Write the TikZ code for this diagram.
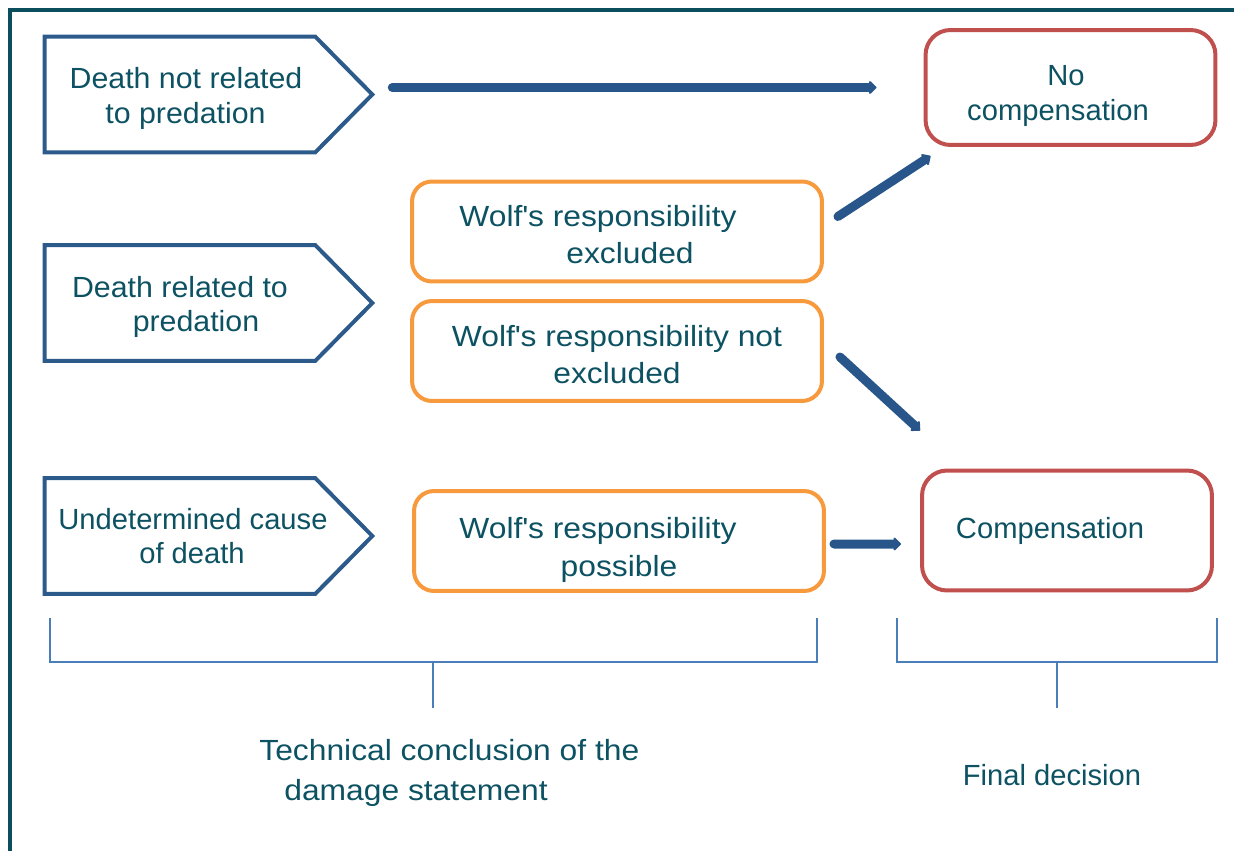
\documentclass[tikz,border=0pt]{standalone}
\usepackage{fontspec}
\setmainfont{Liberation Sans}
\newfontfamily\wolffont{Liberation Sans}[FakeStretch=1.09]
\newfontfamily\deathfont{Liberation Sans}[FakeStretch=1.04]
\usepackage{xcolor}
\usetikzlibrary{arrows.meta,calc}
\definecolor{frameteal}{HTML}{0B4F5E}
\definecolor{textteal}{HTML}{0D5262}
\definecolor{causeblue}{HTML}{2C5A8A}
\definecolor{flowblue}{HTML}{28568A}
\definecolor{wolforange}{HTML}{F79A3E}
\definecolor{decisionred}{HTML}{C0504D}
\definecolor{bracketblue}{HTML}{4A7EBB}
\newcommand{\apos}{\textquotesingle}
\newcommand{\drop}[1]{\rule{0pt}{#1}}

\begin{document}
\begin{tikzpicture}[x=0.02cm,y=-0.02cm,
		every node/.style={text=textteal, align=center, font=\fontsize{16.6}{19.8}\selectfont},
		cause/.style={minimum width=5.4cm, minimum height=2.3cm, inner sep=0pt},
		causeline/.style={draw=causeblue, line width=0.08cm, line join=miter},
		wolf/.style={draw=wolforange, line width=0.08cm, rounded corners=0.4cm,
			minimum width=8.2cm, minimum height=2cm, inner sep=0pt,
			font=\wolffont\fontsize{16.6}{21.5}\selectfont},
		decision/.style={draw=decisionred, line width=0.08cm, rounded corners=0.5cm,
			minimum width=5.8cm, inner sep=0pt},
		flow/.style={draw=flowblue, line width=0.18cm, line cap=round,
			-{Triangle[round,length=0.16cm,width=0.3cm]}},
		bracket/.style={draw=bracketblue, line width=0.03cm}]
		\useasboundingbox (0,0) rectangle (1234,851);
		\draw[frameteal, line width=0.08cm] (10,870) -- (10,10) -- (1250,10);
		% technical conclusions
		\node[cause, font=\deathfont\fontsize{16.6}{19.8}\selectfont] (dnp) at (180,94.5)
			{\drop{16.6pt}\hspace*{0.24cm}Death not related\\\hspace*{0.22cm}to predation};
		\node[cause, font=\deathfont\fontsize{16.6}{19.8}\selectfont] (dp) at (180,303)
			{\drop{16.6pt}Death related to\\\hspace*{0.64cm}predation};
		\node[cause] (ud) at (180,536)
			{\makebox[0pt]{\hspace*{0.52cm}Undetermined cause}\\\makebox[0pt]{\hspace*{0.48cm}of death}};
		\foreach \n in {dnp,dp,ud}
			\draw[causeline] (\n.north west) -- (\n.north east) -- ([xshift=1.14cm]\n.east)
				-- (\n.south east) -- (\n.south west) -- cycle;
		\node[wolf] (wex) at (617,231.5)
			{\drop{15.5pt}Wolf\apos s responsibility\hspace*{0.76cm}\\\hspace*{0.52cm}excluded};
		\node[wolf] (wnot) at (617,351)
			{\drop{16pt}Wolf\apos s responsibility not\\excluded};
		\node[wolf] (wpos) at (619,541)
			{\drop{22.3pt}Wolf\apos s responsibility\hspace*{0.84cm}\\possible};
		% final decisions
		\node[decision, minimum height=2.3cm] (nocomp) at (1070.5,87.5)
			{\drop{21.5pt}No\hspace*{0.18cm}\\compensation\hspace*{0.5cm}};
		\node[decision, minimum height=2.4cm] (comp) at (1067,530.5) {Compensation\hspace*{0.68cm}};
		\draw[flow, shorten <=1.54cm, shorten >=0.94cm] (dnp.east |- nocomp.west) -- (nocomp.west);
		\draw[flow] ([shift={(14,-15)}]wex.east) -- ([shift={(7,9)}]nocomp.south west);
		\draw[flow] ([shift={(16,6)}]wnot.east) -- ([shift={(0,-38)}]comp.north west);
		\draw[flow] ([shift={(8,3)}]wpos.east) -- ([shift={(-19,13.5)}]comp.west);
		% brackets
		\draw[bracket] (50,618) -- (50,662) -- (817,662) -- (817,618);
		\draw[bracket] (433,662) -- (433,708);
		\draw[bracket] (897,618) -- (897,662) -- (1217,662) -- (1217,618);
		\draw[bracket] (1057,662) -- (1057,708);
		\node[anchor=west, align=left, inner sep=0pt, font=\wolffont\fontsize{16.6}{22.7}\selectfont] (techlabel) at (259,773)
			{Technical conclusion of the\\\hspace*{0.5cm}damage statement};
		\node (finallabel) at (1052,775) {Final decision};
	\end{tikzpicture}
\end{document}
